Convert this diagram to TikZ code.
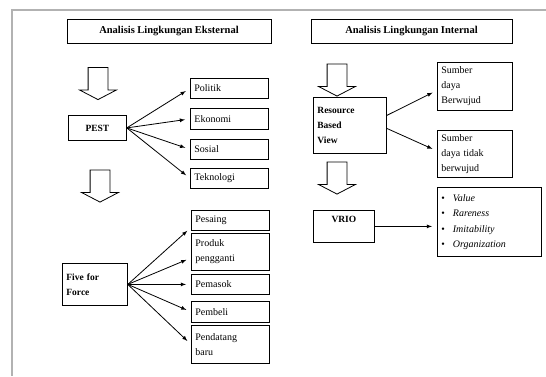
\documentclass[tikz,border=0pt]{standalone}
\usepackage{fontspec}
\setmainfont{Liberation Serif}
\usetikzlibrary{shapes.arrows,arrows,positioning}

\begin{document}
\begin{tikzpicture}[x=1pt, y=-1pt, >=latex, line width=0.8pt]
   \useasboundingbox (0,0) rectangle (546,376);
   \draw[gray!60, line width=2pt] (546,10) -- (12,10) -- (12,376);
   % judul
   \begin{scope}[every node/.style={draw, line width=1pt, font=\bfseries\fontsize{10.5}{12}\selectfont, minimum height=24pt}]
    \node (eks) [minimum width=204pt] at (169,31) {Analisis Lingkungan Eksternal};
    \node (int) [minimum width=201pt] at (411.5,31) {Analisis Lingkungan Internal};
   \end{scope}
   % panah kosong
   \begin{scope}[every node/.style={draw, single arrow, shape border rotate=270, inner sep=9.5pt, minimum height=32pt, single arrow head extend=8.5pt, single arrow tip angle=125}]
    \node (p1) at (98,81) {};
    \node (p2) at (100,183.5) {};
    \node (p3) at (337,77.5) {};
    \node (p4) at (337,175.5) {};
   \end{scope}
   % kotak utama
   \begin{scope}[every node/.style={draw, anchor=north west, font=\bfseries\fontsize{9.5}{15}\selectfont, align=left, inner sep=4pt}]
    \node (pest) [text width=50pt, minimum height=25pt, align=center] at (68,115) {PEST};
    \node (five) [text width=57pt, minimum height=42pt] at (62,263) {Five for\\Force};
    \node (rbv) [text width=65pt, minimum height=56pt] at (313,97) {Resource\\Based\\View};
    \node (vrio) [text width=53pt, align=center, text height=9pt, text depth=17pt, inner ysep=3pt] at (313,210) {VRIO};
   \end{scope}
   % kotak faktor
   \begin{scope}[every node/.style={draw, anchor=north west, font=\fontsize{10}{15}\selectfont, align=left, inner sep=4pt, text width=70pt}]
    \node (politik) [minimum height=20pt] at (190,78) {Politik};
    \node (ekonomi) [minimum height=21pt] at (190,108) {Ekonomi};
    \node (sosial) [minimum height=20pt] at (190,139) {Sosial};
    \node (tekno) [minimum height=20pt] at (190,168) {Teknologi};
    \node (pesaing) [minimum height=20pt] at (191,210) {Pesaing};
    \node (produk) [minimum height=37pt] at (191,233) {Produk\\pengganti};
    \node (pemasok) [minimum height=20pt] at (191,274) {Pemasok};
    \node (pembeli) [minimum height=21pt] at (191,301) {Pembeli};
    \node (datang) [minimum height=38pt] at (191,325) {Pendatang\\baru};
    \node (sd1) [text width=67pt, minimum height=48pt] at (437,62) {Sumber\\daya\\Berwujud};
    \node (sd2) [text width=67pt, minimum height=47pt] at (437,130) {Sumber\\daya tidak\\berwujud};
    \node (vrin) [text width=96pt, minimum height=69pt, font=\fontsize{10}{15.5}\selectfont] at (437,187)
      {\textbullet\hspace{8pt}\textit{Value}\\\textbullet\hspace{8pt}\textit{Rareness}\\\textbullet\hspace{8pt}\textit{Imitability}\\\textbullet\hspace{8pt}\textit{Organization}};
   \end{scope}
   % panah
   \begin{scope}[->, shorten >=5pt]
    \draw (pest.east) -- (politik.west);
    \draw (pest.east) -- (ekonomi.west);
    \draw (pest.east) -- (sosial.west);
    \draw (pest.east) -- (tekno.west);
    \draw (five.east) -- ([yshift=-7pt]pesaing.west);
    \draw (five.east) -- ([yshift=-6pt]produk.west);
    \draw (five.east) -- (pemasok.west);
    \draw (five.east) -- (pembeli.west);
    \draw (five.east) -- (datang.west);
    \draw ([yshift=10pt]rbv.east) -- ([yshift=-4pt]sd1.west);
    \draw ([yshift=-3pt]rbv.east) -- ([yshift=3pt]sd2.west);
    \draw (vrio.east) -- (vrio.east -| vrin.west);
   \end{scope}
\end{tikzpicture}
\end{document}
